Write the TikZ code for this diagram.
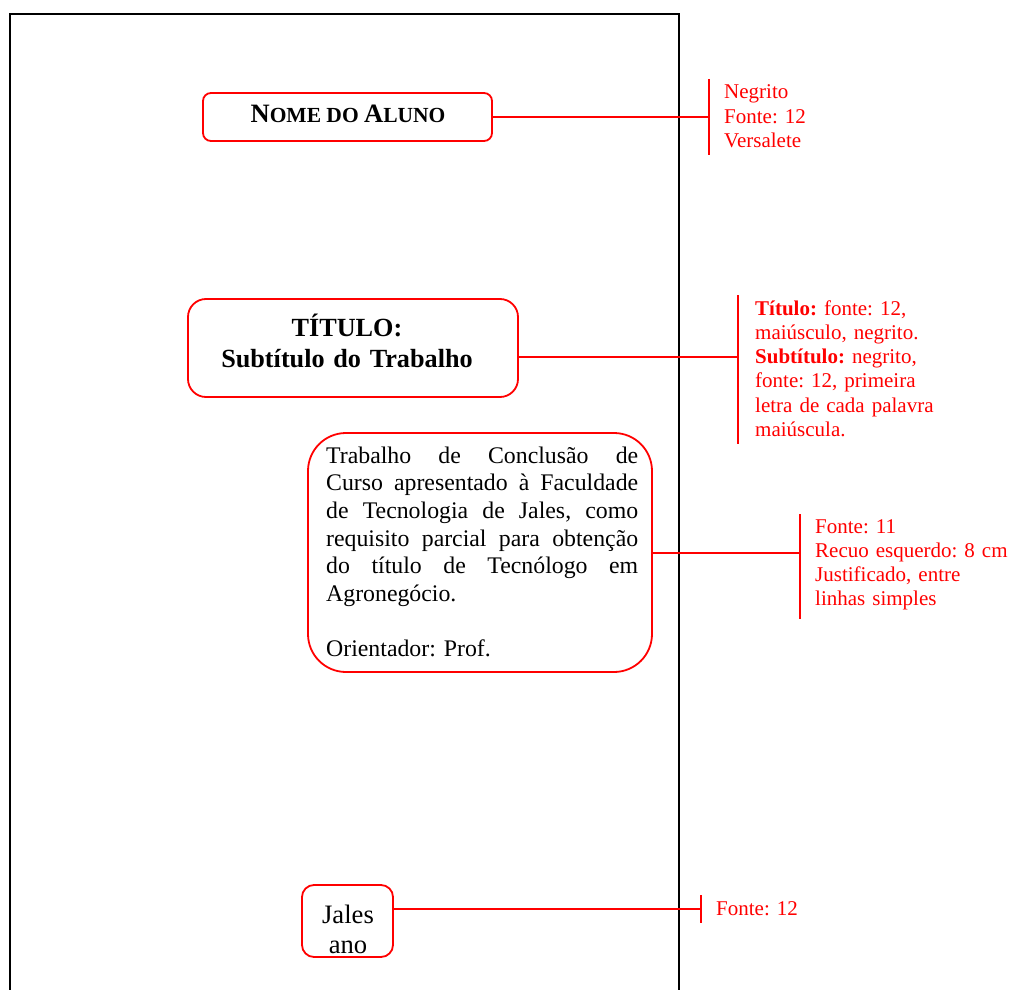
\documentclass[tikz,border=0pt]{standalone}
\usepackage{fontspec}
\setmainfont{Liberation Serif}
\usetikzlibrary{calc}
\definecolor{annred}{RGB}{255,0,0}
\newcommand\jusline[1]{\leavevmode\hbox to 312pt{\spaceskip=0.25em plus 1fil\relax #1}}
\tikzset{
  redbox/.style={draw=annred, line width=1.8pt, inner sep=0pt, outer sep=0pt},
  conn/.style={draw=annred, line width=1.8pt},
  annot/.style={text=annred, font=\fontsize{21}{24.3}\selectfont, anchor=base west, inner sep=0pt, text width=260pt, align=left},
  plain/.style={inner sep=0pt, text=black},
}
\begin{document}
\frenchspacing
\begin{tikzpicture}[x=1pt,y=-1pt]
\clip (0,0) rectangle (1010,990);
% page outline
\draw[line width=2pt] (10,1000) -- (10,14) -- (679,14) -- (679,1000);

% boxes
\node[redbox, rounded corners=8pt, minimum width=289pt, minimum height=48pt] (nome) at (347.5,117) {};
\node[redbox, rounded corners=18pt, minimum width=330pt, minimum height=98pt] (titulo) at (353,348) {};
\node[redbox, rounded corners=38pt, minimum width=344pt, minimum height=239pt] (resumo) at (480,552.5) {};
\node[redbox, rounded corners=12pt, minimum width=91pt, minimum height=72pt] (local) at (347.5,921) {};

% box texts
\node[plain, anchor=base] (nometxt) at (348,122)
  {\bfseries\fontsize{26.5}{28}\selectfont N\fontsize{21.5}{23}\selectfont OME DO \fontsize{26.5}{28}\selectfont A\fontsize{21.5}{23}\selectfont LUNO};
\node[plain, anchor=base, text width=320pt, align=center, font=\bfseries\fontsize{26.2}{31}\selectfont] (tittxt) at (347,336)
  {TÍTULO:\\Subtítulo do Trabalho};
\node[plain, anchor=base west, text width=312pt, font=\fontsize{23.8}{27.7}\selectfont] (restxt) at (326,463)
  {\jusline{Trabalho de Conclusão de}\\
   \jusline{Curso apresentado à Faculdade}\\
   \jusline{de Tecnologia de Jales, como}\\
   \jusline{requisito parcial para obtenção}\\
   \jusline{do título de Tecnólogo em}\\
   Agronegócio.\\
   \mbox{}\\
   Orientador: Prof.};
\node[plain, anchor=base, text width=80pt, align=center, font=\fontsize{26.6}{30}\selectfont] (loctxt) at (348,923)
  {Jales\\ano};

% annotation bars and connectors
\coordinate (b1t) at (709,79);  \coordinate (b1b) at (709,155); \coordinate (b1m) at (709,117);
\coordinate (b2t) at (738,295); \coordinate (b2b) at (738,444); \coordinate (b2m) at (738,357);
\coordinate (b3t) at (800,514); \coordinate (b3b) at (800,619); \coordinate (b3m) at (800,553);
\coordinate (b4t) at (701,895); \coordinate (b4b) at (701,923); \coordinate (b4m) at (701,909);

\draw[conn] (b1t) -- (b1b);
\draw[conn] (b2t) -- (b2b);
\draw[conn] (b3t) -- (b3b);
\draw[conn] (b4t) -- (b4b);
\draw[conn] (nome.east) -- (b1m);
\draw[conn] (b2m -| titulo.east) -- (b2m);
\draw[conn] (b3m -| resumo.east) -- (b3m);
\draw[conn] (b4m -| local.east) -- (b4m);

% annotations
\node[annot] (a1) at (724,99) {Negrito\\Fonte: 12\\Versalete};
\node[annot] (a2) at (755,315) {\textbf{Título:} fonte: 12,\\maiúsculo, negrito.\\\textbf{Subtítulo:} negrito,\\fonte: 12, primeira\\letra de cada palavra\\maiúscula.};
\node[annot] (a3) at (815,533) {Fonte: 11\\Recuo esquerdo: 8 cm\\Justificado, entre\\linhas simples};
\node[annot] (a4) at (716,915) {Fonte: 12};
\end{tikzpicture}
\end{document}
